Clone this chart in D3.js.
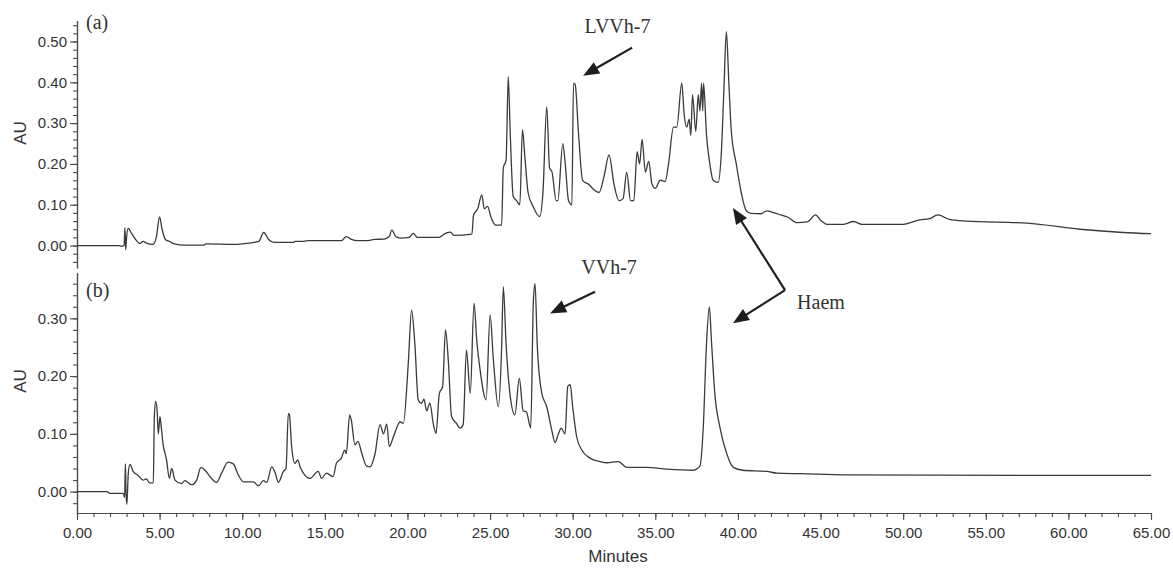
<!DOCTYPE html>
<html>
<head>
<meta charset="utf-8">
<script src="https://cdn.jsdelivr.net/npm/d3@7"></script>
<style>
  body { margin: 0; background: #fff; }
  svg { display: block; }
</style>
</head>
<body>
<svg id="chart" width="1173" height="569"></svg>
<script>
// ---------------- DATA ----------------
// Panel (a): retention time (min) and absorbance (AU)
const timeA = [0,2.5,2.7,2.85,2.9,2.95,3.0,3.1,3.3,3.6,3.8,4.0,4.2,4.6,4.8,5.0,5.15,5.35,5.6,5.9,6.5,7.7,7.8,9.5,10.4,11.0,11.3,11.6,11.9,13.1,13.2,13.6,14.0,16.0,16.3,16.6,17.0,17.5,18.0,18.6,18.9,19.05,19.3,19.55,20.1,20.35,20.6,21.2,21.9,22.3,22.6,22.8,23.9,24.0,24.25,24.5,24.65,24.85,25.05,25.35,25.7,25.8,25.97,26.1,26.22,26.4,26.6,26.8,26.96,27.1,27.3,27.6,28.0,28.2,28.43,28.6,28.75,29.0,29.1,29.4,29.55,29.75,29.95,30.05,30.15,30.35,30.6,31.0,31.3,31.6,31.9,32.2,32.5,32.8,33.05,33.27,33.5,33.7,33.9,34.05,34.2,34.4,34.6,34.8,35.0,35.3,35.6,35.8,36.1,36.3,36.6,36.75,36.9,37.05,37.15,37.25,37.45,37.6,37.7,37.8,37.87,37.92,38.1,38.3,38.5,38.8,39.0,39.15,39.3,39.45,39.6,39.9,40.2,40.5,40.8,41.4,41.75,42.2,42.6,43.0,43.6,44.2,44.7,45.0,45.4,46.4,47.0,47.5,50.0,51.0,51.6,52.1,52.8,53.8,57.5,60.7,63.3,65.0];
const auA = [0,0,-0.002,0,0.044,-0.01,0.02,0.042,0.03,0.012,0.005,0.01,0.006,0.003,0.02,0.07,0.04,0.015,0.01,0.004,0.001,0.001,0.004,0.003,0.006,0.01,0.032,0.015,0.008,0.008,0.01,0.01,0.012,0.012,0.022,0.015,0.012,0.012,0.015,0.016,0.022,0.038,0.022,0.018,0.02,0.03,0.02,0.02,0.02,0.03,0.033,0.025,0.028,0.075,0.09,0.124,0.09,0.096,0.07,0.05,0.05,0.19,0.21,0.414,0.276,0.12,0.11,0.10,0.284,0.22,0.13,0.096,0.071,0.13,0.34,0.19,0.18,0.11,0.11,0.25,0.2,0.11,0.1,0.398,0.395,0.276,0.16,0.149,0.136,0.13,0.17,0.222,0.15,0.11,0.115,0.18,0.11,0.11,0.23,0.2,0.26,0.18,0.206,0.15,0.14,0.16,0.157,0.2,0.29,0.29,0.398,0.32,0.29,0.31,0.27,0.37,0.28,0.37,0.33,0.398,0.33,0.398,0.27,0.2,0.16,0.155,0.23,0.38,0.524,0.4,0.28,0.2,0.13,0.086,0.079,0.078,0.085,0.08,0.075,0.07,0.056,0.058,0.075,0.062,0.052,0.052,0.059,0.052,0.052,0.063,0.066,0.075,0.064,0.06,0.055,0.04,0.032,0.029];

// Panel (b)
const timeB = [0,1.8,2.0,2.8,2.88,2.93,2.97,3.02,3.1,3.2,3.4,3.7,4.0,4.2,4.4,4.62,4.68,4.76,4.85,4.92,5.02,5.1,5.2,5.42,5.59,5.73,5.93,6.33,6.53,6.94,7.24,7.5,7.75,8.05,8.45,8.75,9.15,9.46,9.76,10.07,10.67,10.98,11.28,11.48,11.79,12.0,12.19,12.49,12.65,12.79,12.85,12.99,13.19,13.36,13.5,13.7,14.1,14.6,14.8,15.1,15.5,15.7,16.0,16.2,16.3,16.5,16.6,16.82,17.0,17.24,17.53,17.74,18.04,18.34,18.55,18.75,18.9,19.15,19.45,19.55,19.75,20.05,20.25,20.45,20.65,20.85,21.0,21.16,21.36,21.56,21.73,21.93,22.13,22.3,22.47,22.67,22.97,23.17,23.37,23.57,23.8,24.03,24.2,24.4,24.76,25.0,25.2,25.5,25.7,25.8,25.97,26.2,26.5,26.77,27.0,27.2,27.46,27.62,27.72,27.86,28.13,28.43,28.73,28.93,29.14,29.3,29.54,29.7,29.85,30.0,30.24,30.55,31.05,31.66,32.06,32.77,33.27,34.48,35.7,37.3,37.7,37.9,38.1,38.27,38.4,38.6,38.92,39.32,39.72,40.3,41.75,42.35,43.8,46.6,65.0];
const auB = [0,0,-0.003,-0.003,-0.01,0.048,-0.005,-0.022,0.03,0.047,0.035,0.028,0.02,0.022,0.015,0.015,0.13,0.156,0.14,0.10,0.13,0.112,0.084,0.055,0.023,0.04,0.02,0.014,0.019,0.012,0.02,0.042,0.037,0.026,0.016,0.032,0.051,0.048,0.029,0.017,0.017,0.01,0.019,0.016,0.043,0.032,0.016,0.035,0.04,0.135,0.134,0.078,0.049,0.055,0.043,0.032,0.023,0.035,0.023,0.032,0.026,0.049,0.058,0.072,0.066,0.133,0.124,0.081,0.087,0.066,0.044,0.043,0.066,0.116,0.1,0.117,0.078,0.095,0.117,0.121,0.118,0.222,0.314,0.255,0.159,0.153,0.16,0.14,0.153,0.118,0.101,0.17,0.182,0.28,0.228,0.13,0.118,0.11,0.116,0.245,0.17,0.326,0.26,0.21,0.159,0.306,0.228,0.147,0.25,0.355,0.255,0.17,0.133,0.196,0.14,0.138,0.11,0.33,0.36,0.25,0.17,0.147,0.107,0.085,0.1,0.11,0.1,0.182,0.185,0.147,0.095,0.072,0.058,0.052,0.05,0.052,0.042,0.042,0.039,0.037,0.044,0.11,0.257,0.32,0.26,0.17,0.11,0.066,0.042,0.037,0.035,0.032,0.031,0.029,0.028];

// Axes ticks
const xTickValues = [0,5,10,15,20,25,30,35,40,45,50,55,60,65];
const yTickValuesA = [0,0.1,0.2,0.3,0.4,0.5];
const yTickValuesB = [0,0.1,0.2,0.3];
const xTitle = "Minutes";
const yTitle = "AU";
const panelLabels = ["(a)", "(b)"];

// Annotations (data coordinates: minutes, AU)
const lvvhLabel = "LVVh-7";
const lvvhText = [32.71, 0.521];
const lvvhArrow = [[33.6, 0.485], [30.63, 0.416]];
const vvhLabel = "VVh-7";
const vvhText = [32.2, 0.3765];
const vvhArrow = [[31.35, 0.346], [28.63, 0.3085]];
const haemLabel = "Haem";
const haemText = [43.58, 0.316];
const haemTipA = [39.70, 0.0922];   // in panel (a)
const haemElbowB = [42.85, 0.3488]; // in panel (b)
const haemTipB = [39.70, 0.2917];   // in panel (b)
const panelLabelPosA = [0.55, 0.53];
const panelLabelPosB = [0.55, 0.3365];

// ---------------- DRAWING ----------------
const svg = d3.select("#chart");
const sans = "'Liberation Sans', Arial, Helvetica, sans-serif";
const serif = "'Liberation Serif', 'Times New Roman', serif";
const axisColor = "#4a4a4a";
const textColor = "#333";
const traceColor = "#3a3a3a";

const x = d3.scaleLinear().domain([0, 65]).range([77, 1151]);
const yA = d3.scaleLinear().domain([-0.055, 0.551]).range([268, 20.7]);
const yB = d3.scaleLinear().domain([-0.037, 0.379]).range([513, 272.7]);

function styleAxis(g) {
  g.select(".domain").attr("stroke", axisColor).attr("stroke-width", 1.2);
  g.selectAll(".tick line").attr("stroke", axisColor).attr("stroke-width", 1.1);
  g.selectAll(".tick text").attr("fill", textColor)
    .style("font-family", sans).style("font-size", "15px");
}

function drawYAxis(scale, ticks) {
  const dom = scale.domain();
  const minor = d3.range(Math.ceil(dom[0] / 0.02) * 0.02, dom[1] + 1e-9, 0.02);
  svg.append("g").attr("transform", `translate(${x(0)},0)`)
    .call(d3.axisLeft(scale).tickValues(minor).tickSize(4).tickSizeOuter(0).tickFormat(""))
    .call(styleAxis);
  svg.append("g").attr("transform", `translate(${x(0)},0)`)
    .call(d3.axisLeft(scale).tickValues(ticks).tickSize(7).tickSizeOuter(0)
      .tickPadding(3).tickFormat(d3.format(".2f")))
    .call(styleAxis);
}
drawYAxis(yA, yTickValuesA);
drawYAxis(yB, yTickValuesB);

// X axis (bottom panel only)
const xAxisY = yB.range()[0];
svg.append("g").attr("transform", `translate(0,${xAxisY})`)
  .call(d3.axisBottom(x).tickValues(d3.range(0, 66, 1)).tickSize(4).tickSizeOuter(0).tickFormat(""))
  .call(styleAxis);
svg.append("g").attr("transform", `translate(0,${xAxisY})`)
  .call(d3.axisBottom(x).tickValues(xTickValues).tickSize(7).tickSizeOuter(0)
    .tickPadding(7).tickFormat(d3.format(".2f")))
  .call(styleAxis);

// Axis titles
svg.append("text").text(xTitle)
  .attr("x", (x.range()[0] + x.range()[1]) / 2 + 4).attr("y", 562)
  .attr("text-anchor", "middle").attr("fill", textColor)
  .style("font-family", sans).style("font-size", "17px");
[[yA, 133], [yB, 381]].forEach(([s, cy]) => {
  svg.append("text").text(yTitle)
    .attr("transform", `translate(26,${cy}) rotate(-90)`)
    .attr("text-anchor", "middle").attr("fill", textColor)
    .style("font-family", sans).style("font-size", "17px");
});

// Traces
function drawTrace(times, vals, yScale) {
  const pts = times.map((t, i) => [t, vals[i]]);
  svg.append("path").datum(pts)
    .attr("fill", "none").attr("stroke", traceColor)
    .attr("stroke-width", 1.3).attr("stroke-linejoin", "round")
    .attr("d", d3.line().curve(d3.curveMonotoneX).x(d => x(d[0])).y(d => yScale(d[1])));
}
drawTrace(timeA, auA, yA);
drawTrace(timeB, auB, yB);

// Panel labels
[[panelLabels[0], panelLabelPosA, yA], [panelLabels[1], panelLabelPosB, yB]].forEach(([lab, p, s]) => {
  svg.append("text").text(lab).attr("x", x(p[0])).attr("y", s(p[1]))
    .attr("fill", textColor).style("font-family", serif).style("font-size", "20px");
});

// Annotation helpers
function arrowHead(tail, tip, len = 16, half = 6.5) {
  const dx = tip[0] - tail[0], dy = tip[1] - tail[1];
  const L = Math.hypot(dx, dy);
  const ux = dx / L, uy = dy / L;
  const bx = tip[0] - ux * len, by = tip[1] - uy * len;
  const px = -uy, py = ux;
  svg.append("path")
    .attr("d", `M${tip[0]},${tip[1]}L${bx + px * half},${by + py * half}L${bx - px * half},${by - py * half}Z`)
    .attr("fill", "#1e1e1e");
  return [bx + ux * 2, by + uy * 2];
}
function arrow(tail, tip) {
  const base = arrowHead(tail, tip);
  svg.append("line").attr("x1", tail[0]).attr("y1", tail[1])
    .attr("x2", base[0]).attr("y2", base[1])
    .attr("stroke", "#1e1e1e").attr("stroke-width", 2.2);
}
function serifText(str, px, py, anchor) {
  svg.append("text").text(str).attr("x", px).attr("y", py)
    .attr("text-anchor", anchor).attr("fill", textColor)
    .style("font-family", serif).style("font-size", "20px");
}

// LVVh-7
serifText(lvvhLabel, x(lvvhText[0]), yA(lvvhText[1]), "middle");
arrow([x(lvvhArrow[0][0]), yA(lvvhArrow[0][1])], [x(lvvhArrow[1][0]), yA(lvvhArrow[1][1])]);

// VVh-7
serifText(vvhLabel, x(vvhText[0]), yB(vvhText[1]), "middle");
arrow([x(vvhArrow[0][0]), yB(vvhArrow[0][1])], [x(vvhArrow[1][0]), yB(vvhArrow[1][1])]);

// Haem (two arrows from a common elbow)
const elbow = [x(haemElbowB[0]), yB(haemElbowB[1])];
arrow(elbow, [x(haemTipA[0]), yA(haemTipA[1])]);
arrow(elbow, [x(haemTipB[0]), yB(haemTipB[1])]);
serifText(haemLabel, x(haemText[0]), yB(haemText[1]), "start");
</script>
</body>
</html>
